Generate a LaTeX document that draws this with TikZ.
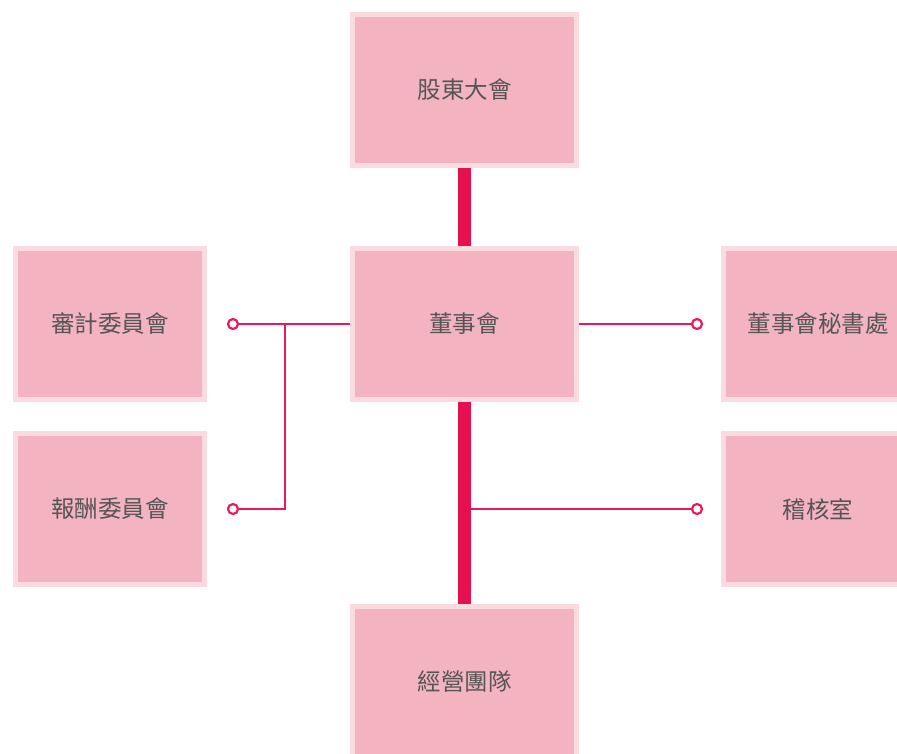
\documentclass[tikz,border=0pt]{standalone}
\usepackage{fontspec}
\setmainfont{Noto Sans CJK TC}
\begin{document}
\begin{tikzpicture}[x=1pt,y=-1pt,
  box/.style={draw=boxedge,fill=boxfill,line width=5pt,text=textgray,
    font=\fontsize{23.5}{28}\selectfont,inner sep=0pt},
  wide/.style={box,minimum width=224pt,minimum height=151pt},
  narrow/.style={box,minimum width=189pt,minimum height=151pt},
  trunk/.style={draw=trunkred,line width=13pt},
  link/.style={draw=linkred,line width=2pt},
  dot/.style={circle,draw=linkred,fill=white,line width=2.2pt,minimum size=10pt,inner sep=0pt}]
\definecolor{boxfill}{HTML}{F4B3C1}
\definecolor{boxedge}{HTML}{FBDBE0}
\definecolor{textgray}{HTML}{555555}
\definecolor{trunkred}{HTML}{E5104F}
\definecolor{linkred}{HTML}{EA1A59}
\useasboundingbox (0,0) rectangle (897,753);
\node[wide] (gm) at (464.5,90) {股東大會};
\node[wide] (bd) at (464.5,324) {董事會};
\node[wide] (mt) at (464.5,682) {經營團隊};
\node[narrow] (au) at (110,324) {審計委員會};
\node[narrow] (rc) at (110,509) {報酬委員會};
\node[narrow] (sec) at (818,324) {董事會秘書處};
\node[narrow] (ia) at (818,509) {稽核室};
\node[dot] (c1) at (233,324) {};
\node[dot] (c2) at (233,509) {};
\node[dot] (c3) at (697,324) {};
\node[dot] (c4) at (697,509) {};
\coordinate (j1) at (285,324);
\coordinate (j2) at (285,509);
\coordinate (m) at (464.5,509);
\draw[link] (bd.west) -- (c1);
\draw[link] (j1) -- (j2) -- (c2);
\draw[link] (bd.east) -- (c3);
\draw[link] (m) -- (c4);
\draw[trunk] (gm.south) -- (bd.north);
\draw[trunk] (bd.south) -- (mt.north);
\end{tikzpicture}
\end{document}
